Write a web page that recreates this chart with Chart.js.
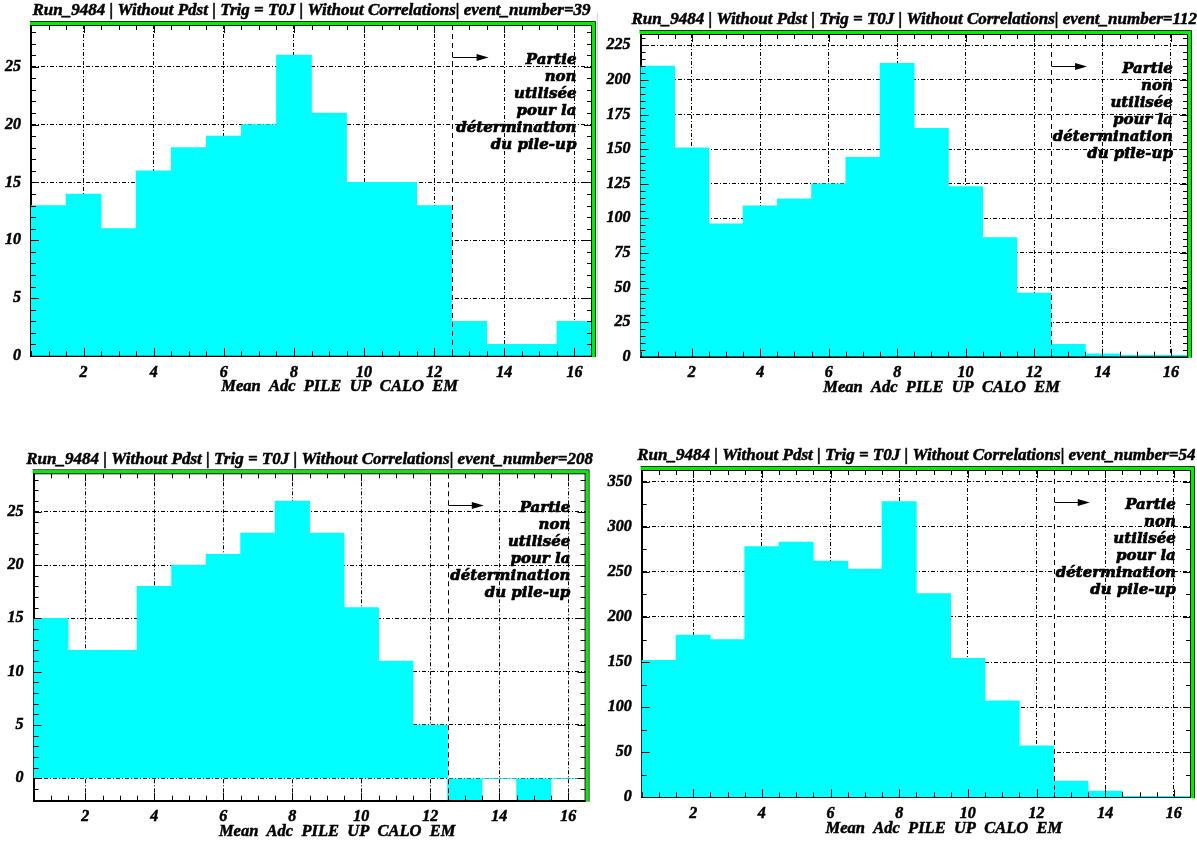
<!DOCTYPE html>
<html>
<head>
<meta charset="utf-8">
<script src="https://cdn.jsdelivr.net/npm/chart.js@4/dist/chart.umd.min.js"></script>
<style>
html,body{margin:0;padding:0;background:#fff;width:1197px;height:846px;overflow:hidden}
.panel{position:absolute}
canvas{display:block}
#sep{position:absolute;left:597px;top:13px;width:1px;height:343px;background:#d6d6d6}
</style>
</head>
<body>
<div class="panel" style="left:0;top:0;width:598px;height:400px"><canvas id="c0" width="598" height="400"></canvas></div>
<div class="panel" style="left:598px;top:0;width:599px;height:400px"><canvas id="c1" width="599" height="400"></canvas></div>
<div class="panel" style="left:0;top:420px;width:598px;height:426px"><canvas id="c2" width="598" height="426"></canvas></div>
<div class="panel" style="left:598px;top:420px;width:599px;height:426px"><canvas id="c3" width="599" height="426"></canvas></div>
<div id="sep"></div>
<script>
// ---------------- data ----------------
const binCenters = [1, 2, 3, 4, 5, 6, 7, 8, 9, 10, 11, 12, 13, 14, 15, 16];
const xTickValues = [2, 4, 6, 8, 10, 12, 14, 16];

const countsEvent39  = [13, 14, 11, 16, 18, 19, 20, 26, 21, 15, 15, 13, 3, 1, 1, 3];
const countsEvent112 = [210, 151, 96, 109, 114, 125, 144, 212, 165, 123, 86, 46, 9, 2, 1, 1];
const countsEvent208 = [15, 12, 12, 18, 20, 21, 23, 26, 23, 16, 11, 5, -2, 0, -2, 0];
const countsEvent54  = [152, 180, 175, 278, 283, 262, 253, 328, 226, 154, 107, 57, 18, 7, 1, 1];

const yTicksEvent39  = [0, 5, 10, 15, 20, 25];
const yTicksEvent112 = [0, 25, 50, 75, 100, 125, 150, 175, 200, 225];
const yTicksEvent208 = [0, 5, 10, 15, 20, 25];
const yTicksEvent54  = [0, 50, 100, 150, 200, 250, 300, 350];

const eventNumbers = [39, 112, 208, 54];
const titlePrefix = 'Run_9484 | Without Pdst | Trig = T0J | Without Correlations| event_number=';
const xAxisTitle = 'Mean  Adc  PILE  UP  CALO  EM';
const noteLines = ['Partie', 'non', 'utilisée', 'pour la', 'détermination', 'du pile-up'];
const cutValue = 12.5;

// ---------------- panels (layout) ----------------
const panels = [
  { canvas: 'c0', counts: countsEvent39,  yTicks: yTicksEvent39,  yMin: 0,    yMax: 28.6,  yMinor: 1,  padTop: 25,   padRight: 6,    yWidth: 31,   xHeight: 44 },
  { canvas: 'c1', counts: countsEvent112, yTicks: yTicksEvent112, yMin: 0,    yMax: 233.2, yMinor: 5,  padTop: 34,   padRight: 9,    yWidth: 42.5, xHeight: 43.3 },
  { canvas: 'c2', counts: countsEvent208, yTicks: yTicksEvent208, yMin: -2.1, yMax: 28.6,  yMinor: 1,  padTop: 53.3, padRight: 12.4, yWidth: 33.6, xHeight: 45.3 },
  { canvas: 'c3', counts: countsEvent54,  yTicks: yTicksEvent54,  yMin: 0,    yMax: 363,   yMinor: 25, padTop: 50,   padRight: 6,    yWidth: 43.7, xHeight: 48.7 }
];

const SERIF = '"Liberation Serif", "Times New Roman", serif';
const NOTE_FONT = 'italic bold 15px "DejaVu Serif", serif';

function heavyText(ctx, text, x, y, w) {
  ctx.lineWidth = w;
  ctx.strokeStyle = '#000';
  ctx.lineJoin = 'round';
  ctx.strokeText(text, x, y);
  ctx.fillText(text, x, y);
}

const rootDecor = {
  id: 'rootDecor',
  afterDraw(chart, args, o) {
    const ctx = chart.ctx;
    const a = chart.chartArea;
    const xs = chart.scales.x, ys = chart.scales.y;
    ctx.save();

    // tick marks (inside, on all four sides)
    ctx.strokeStyle = '#000';
    ctx.lineWidth = 1;
    ctx.beginPath();
    for (let v = 0.5; v <= 16.5001; v += 0.5) {
      const px = Math.round(xs.getPixelForValue(v)) + 0.5;
      const len = Number.isInteger(v) && v % 2 === 0 ? 8 : 5;
      ctx.moveTo(px, a.bottom); ctx.lineTo(px, a.bottom - len);
      ctx.moveTo(px, a.top); ctx.lineTo(px, a.top + len);
    }
    const start = Math.ceil(o.yMin / o.yMinor) * o.yMinor;
    for (let v = start; v <= o.yMax; v += o.yMinor) {
      const py = Math.round(ys.getPixelForValue(v)) + 0.5;
      const len = o.yTicks.includes(v) ? 8 : 5;
      ctx.moveTo(a.left, py); ctx.lineTo(a.left + len, py);
      ctx.moveTo(a.right, py); ctx.lineTo(a.right - len, py);
    }
    ctx.stroke();

    // frame: green bevel on top and right
    ctx.fillStyle = '#00ee00';
    ctx.fillRect(a.left - 1, a.top - 3, a.right - a.left + 4, 3);
    ctx.fillRect(a.right, a.top - 3, 3, a.bottom - a.top + 4);
    ctx.strokeStyle = '#0a3d0a';
    ctx.lineWidth = 1;
    ctx.beginPath();
    ctx.moveTo(a.left - 1, a.top - 3.5); ctx.lineTo(a.right + 3.5, a.top - 3.5); ctx.lineTo(a.right + 3.5, a.bottom + 1);
    ctx.stroke();
    ctx.strokeStyle = '#000';
    ctx.beginPath();
    ctx.moveTo(a.left, a.top + 0.5); ctx.lineTo(a.right, a.top + 0.5);
    ctx.moveTo(a.right - 0.5, a.top); ctx.lineTo(a.right - 0.5, a.bottom);
    ctx.stroke();

    // title
    ctx.fillStyle = '#000';
    ctx.font = 'italic bold 17px ' + SERIF;
    ctx.textAlign = 'center';
    ctx.textBaseline = 'middle';
    heavyText(ctx, o.title, (a.left + a.right) / 2, a.top - 14, 0.5);

    // x axis title
    ctx.font = 'italic bold 16.5px ' + SERIF;
    heavyText(ctx, xAxisTitle, xs.getPixelForValue(9.3), a.bottom + 31, 0.5);

    // cut line
    const cx = Math.round(xs.getPixelForValue(cutValue)) + 0.5;
    ctx.strokeStyle = '#000';
    ctx.lineWidth = 1;
    ctx.setLineDash([5, 4]);
    ctx.beginPath();
    ctx.moveTo(cx, a.top); ctx.lineTo(cx, a.bottom);
    ctx.stroke();
    ctx.setLineDash([]);

    // arrow
    const ay = Math.round(a.top + 32) + 0.5;
    const ax2 = xs.getPixelForValue(cutValue + 1.05);
    ctx.beginPath();
    ctx.moveTo(cx, ay); ctx.lineTo(ax2 - 8, ay);
    ctx.stroke();
    ctx.beginPath();
    ctx.moveTo(ax2, ay); ctx.lineTo(ax2 - 12, ay - 3.5); ctx.lineTo(ax2 - 12, ay + 3.5); ctx.closePath();
    ctx.fill();

    // note text
    ctx.font = NOTE_FONT;
    ctx.textAlign = 'right';
    const tx = xs.getPixelForValue(16) + 2;
    noteLines.forEach((t, i) => heavyText(ctx, t, tx, a.top + 35 + i * 17, 0.7));

    ctx.restore();
  }
};

panels.forEach((p, idx) => {
  new Chart(document.getElementById(p.canvas), {
    type: 'bar',
    data: {
      datasets: [{
        data: binCenters.map((x, i) => ({ x: x, y: p.counts[i] })),
        backgroundColor: '#00ffff',
        borderWidth: 0,
        barPercentage: 1,
        categoryPercentage: 1
      }]
    },
    options: {
      responsive: false,
      animation: false,
      devicePixelRatio: 1,
      layout: { padding: { top: p.padTop, right: p.padRight, left: 0, bottom: 0 } },
      plugins: {
        legend: { display: false },
        tooltip: { enabled: false },
        title: { display: false },
        rootDecor: { title: titlePrefix + eventNumbers[idx], yMin: p.yMin, yMax: p.yMax, yMinor: p.yMinor, yTicks: p.yTicks }
      },
      scales: {
        x: {
          type: 'linear',
          min: 0.5,
          max: 16.5,
          offset: false,
          z: 1,
          afterBuildTicks: s => { s.ticks = xTickValues.map(v => ({ value: v })); },
          afterFit: s => { s.height = p.xHeight; },
          grid: { color: '#000', lineWidth: 1, drawTicks: false, offset: false },
          border: { display: true, color: '#000', width: 2, dash: [4, 2, 1, 2] },
          ticks: { padding: 7, color: '#000', autoSkip: false, maxRotation: 0,
                   textStrokeColor: '#000', textStrokeWidth: 0.5,
                   font: { family: SERIF, size: 16, style: 'italic', weight: 'bold' } }
        },
        y: {
          type: 'linear',
          min: p.yMin,
          max: p.yMax,
          z: 1,
          afterBuildTicks: s => { s.ticks = p.yTicks.map(v => ({ value: v })); },
          afterFit: s => { s.width = p.yWidth; },
          grid: { color: '#000', lineWidth: 1, drawTicks: false },
          border: { display: true, color: '#000', width: 2, dash: [4, 2, 1, 2] },
          ticks: { padding: 10, color: '#000',
                   textStrokeColor: '#000', textStrokeWidth: 0.5,
                   font: { family: SERIF, size: 16, style: 'italic', weight: 'bold' } }
        }
      }
    },
    plugins: [rootDecor]
  });
});
</script>
</body>
</html>
